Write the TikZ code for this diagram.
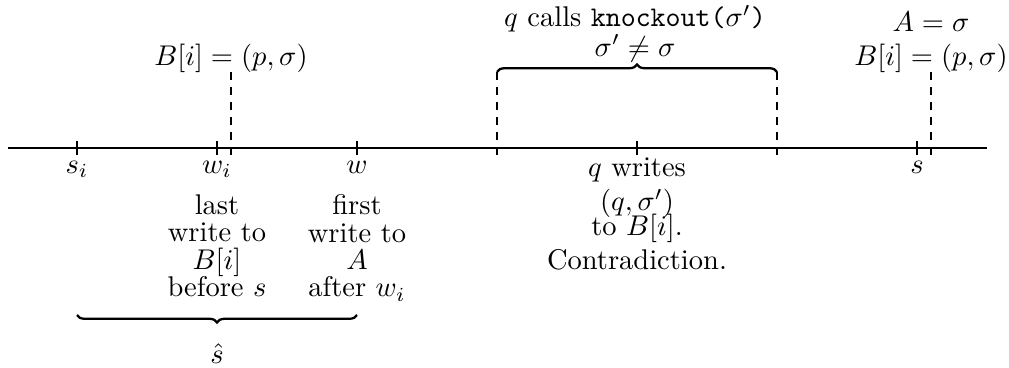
\documentclass[tikz,border=0pt]{standalone}
\usetikzlibrary{decorations.pathreplacing}
\begin{document}
\begin{tikzpicture}[x=0.35088pt,y=-0.35088pt,
  tick/.style={line width=0.4pt},
  guide/.style={dash pattern=on 2.65pt off 2.65pt, line width=0.4pt},
  brc/.style={decorate, decoration={brace, amplitude=2.65pt}, line width=0.8pt},
  lab/.style={anchor=base, inner sep=0pt},
  desc/.style={anchor=north, align=center, inner sep=0pt}]
\useasboundingbox (0,0) rectangle (1009,367);
% timeline
\coordinate (L) at (8,148);
\coordinate (R) at (987,148);
\draw[line width=0.4pt] (L) -- (R);
% ticks
\foreach \n/\x in {si/77, wi/217, w/357, qw/637, s/917} {
  \coordinate (\n t) at (\x,141);
  \coordinate (\n b) at (\x,155);
  \draw[tick] (\n t) -- (\n b);
}
% tick labels
\node[lab] (lsi) at (77,173) {$s_i$};
\node[lab] (lwi) at (217,173) {$w_i$};
\node[lab] (lw) at (357,173) {$w$};
\node[lab] (ls) at (917,173) {$s$};
% descriptions
\node[desc] (dwi) at (217,194.2) {last\\[-2.42pt]write to\\[-2.42pt]$B[i]$\\[-2.42pt]before $s$};
\node[desc] (dw) at (357,194.2) {first\\[-2.42pt]write to\\[-2.42pt]$A$\\[-2.42pt]after $w_i$};
\node[desc] (dqw) at (637,157.7) {$q$ writes\\[-0.25pt]$(q,\sigma')$\\[-3.23pt]to $B[i]$.\\Contradiction.};
% dashed guides
\coordinate (g1t) at (231,72); \coordinate (g1b) at (231,155);
\coordinate (g2t) at (497,72); \coordinate (g2b) at (497,155);
\coordinate (g3t) at (777,72); \coordinate (g3b) at (777,155);
\coordinate (g4t) at (931,72); \coordinate (g4b) at (931,155);
\draw[guide] (g1t) -- (g1b);
\draw[guide] (g2t) -- (g2b);
\draw[guide] (g3t) -- (g3b);
\draw[guide] (g4t) -- (g4b);
% top texts
\node[lab] (tb1) at (231,65) {$B[i]=(p,\sigma)$};
\node[lab] (ta2) at (931,32) {$A=\sigma$};
\node[lab] (tb2) at (931,65) {$B[i]=(p,\sigma)$};
\node[lab] (tq) at (635,26.5) {$q$ calls \texttt{knockout($\sigma'$)}};
\node[lab] (tneq) at (635,56) {$\sigma'\neq\sigma$};
% braces
\draw[brc] (g2t) -- (g3t);
\coordinate (b1) at (77,315);
\coordinate (b2) at (357,315);
\draw[brc] (b2) -- (b1);
\node[lab] (shat) at (217,363) {$\hat{s}$};
\end{tikzpicture}
\end{document}
